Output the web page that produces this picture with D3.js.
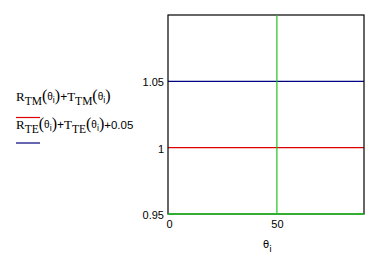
<!DOCTYPE html>
<html>
<head>
<meta charset="utf-8">
<script src="https://cdn.jsdelivr.net/npm/d3@7"></script>
<style>
  body { margin: 0; background: #fff; }
  svg { display: block; }
  .tick text { font-family: "Liberation Sans", Arial, sans-serif; font-size: 11px; fill: #000; }
</style>
</head>
<body>
<svg id="chart" width="387" height="257"></svg>
<script>
// data
var theta = [0, 10, 20, 30, 40, 50, 60, 70, 80, 90];
var seriesTM = [1, 1, 1, 1, 1, 1, 1, 1, 1, 1];            // R_TM + T_TM
var seriesTE = [1.05, 1.05, 1.05, 1.05, 1.05, 1.05, 1.05, 1.05, 1.05, 1.05]; // R_TE + T_TE + 0.05
var xDomain = [0, 90];
var yDomain = [0.95, 1.1];
var xTicks = [0, 50];
var yTicks = [0.95, 1, 1.05];
var yTickLabels = ["0.95", "1", "1.05"];
var xMarker = 50;
var yMarker = 0.95;

var colors = { tm: "#dd0000", te: "#000080", marker: "#22c422" };

var svg = d3.select("#chart");
var plot = { left: 168, top: 15, right: 364, bottom: 214 };

var x = d3.scaleLinear().domain(xDomain).range([plot.left, plot.right]);
var y = d3.scaleLinear().domain(yDomain).range([plot.bottom, plot.top]);

// traces
var line = d3.line()
	.x(function(d, i) { return x(theta[i]); })
	.y(function(d) { return y(d); });

[{v: seriesTM, c: colors.tm}, {v: seriesTE, c: colors.te}].forEach(function(s) {
	svg.append("path")
		.datum(s.v)
		.attr("d", line)
		.attr("fill", "none")
		.attr("stroke", s.c)
		.attr("stroke-width", 1.2);
});

// frame
svg.append("rect")
	.attr("x", plot.left).attr("y", plot.top)
	.attr("width", plot.right - plot.left)
	.attr("height", plot.bottom - plot.top)
	.attr("fill", "none")
	.attr("stroke", "#000")
	.attr("stroke-width", 1.2);

// markers (drawn over frame)
svg.append("line")
	.attr("x1", x(xMarker)).attr("x2", x(xMarker))
	.attr("y1", plot.top).attr("y2", plot.bottom)
	.attr("stroke", colors.marker).attr("stroke-width", 1.2);
svg.append("line")
	.attr("x1", plot.left).attr("x2", plot.right)
	.attr("y1", y(yMarker)).attr("y2", y(yMarker))
	.attr("stroke", colors.marker).attr("stroke-width", 1.4);

// axes (labels only)
var yAxis = d3.axisLeft(y).tickValues(yTicks)
	.tickFormat(function(d, i) { return yTickLabels[i]; })
	.tickSize(0).tickPadding(4);
svg.append("g")
	.attr("transform", "translate(" + plot.left + ",1)")
	.call(yAxis)
	.call(function(g) { g.select(".domain").remove(); });

var xAxis = d3.axisBottom(x).tickValues(xTicks)
	.tickFormat(d3.format("d"))
	.tickSize(0).tickPadding(6);
var xg = svg.append("g")
	.attr("transform", "translate(0," + plot.bottom + ")")
	.call(xAxis)
	.call(function(g) { g.select(".domain").remove(); });
xg.selectAll(".tick").filter(function(d) { return d === 0; })
	.select("text").attr("text-anchor", "start").attr("dx", -2);

// x axis title: theta_i
var xt = svg.append("text")
	.attr("x", 263).attr("y", 248)
	.style("font-family", "'DejaVu Sans', sans-serif")
	.style("font-size", "10px");
xt.append("tspan").text("\u03b8");
xt.append("tspan").attr("dy", 4).style("font-size", "9px").text("i");

// legend
var serif = "'Liberation Serif', 'Times New Roman', serif";
var sans = "'Liberation Sans', Arial, sans-serif";
function legendEntry(yBase, sub, tail) {
	var t = svg.append("text").attr("x", 16).attr("y", yBase)
		.style("font-family", serif).style("font-size", "13px");
	function fn(letter) {
		t.append("tspan").text(letter);
		t.append("tspan").attr("dy", 4).style("font-size", "11.5px").text(sub);
		t.append("tspan").attr("dy", -4).style("font-size", "16px").text("(");
		t.append("tspan").style("font-family", sans).style("font-size", "10px").attr("dy", -1).text("\u03b8");
		t.append("tspan").style("font-family", sans).style("font-size", "9px").attr("dy", 3).text("i");
		t.append("tspan").attr("dy", -2).style("font-size", "16px").text(")");
	}
	fn("R");
	t.append("tspan").style("font-family", sans).style("font-size", "12px").text("+");
	fn("T");
	if (tail) t.append("tspan").style("font-family", sans).style("font-size", "11.5px").text(tail);
}
legendEntry(101, "TM", null);
legendEntry(129, "TE", "+0.05");

[{yy: 117.5, c: colors.tm}, {yy: 143, c: colors.te}].forEach(function(s) {
	svg.append("line")
		.attr("x1", 16).attr("x2", 40)
		.attr("y1", s.yy).attr("y2", s.yy)
		.attr("stroke", s.c).attr("stroke-width", 1.2);
});
</script>
</body>
</html>
